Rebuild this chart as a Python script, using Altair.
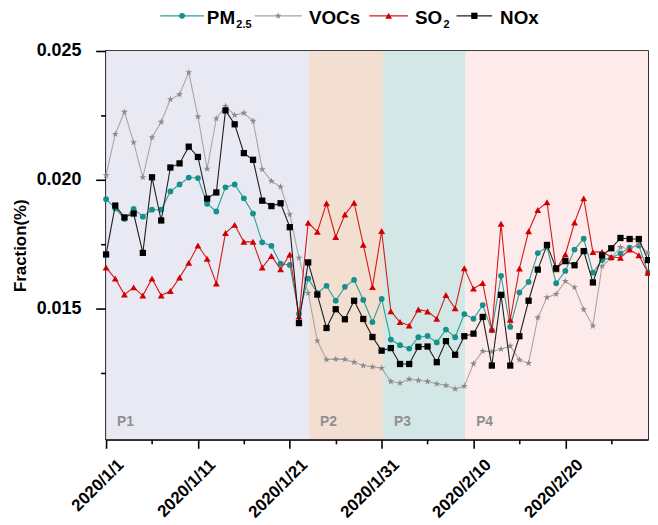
import json
import altair as alt
import pandas as pd

# daily fractions, 2020/1/1 .. 2020/2/29
pm25 = [0.01924, 0.01888, 0.01847, 0.01886, 0.01856, 0.01883, 0.01883, 0.01954, 0.01981, 0.02008,
        0.02006, 0.01906, 0.01876, 0.01970, 0.01981, 0.01927, 0.01868, 0.01756, 0.01742, 0.01673,
        0.01668, 0.01478, 0.01615, 0.01559, 0.01587, 0.01529, 0.01583, 0.01610, 0.01532, 0.01446,
        0.01536, 0.01378, 0.01356, 0.01343, 0.01387, 0.01392, 0.01367, 0.01417, 0.01387, 0.01477,
        0.01459, 0.01512, 0.01414, 0.01626, 0.01427, 0.01561, 0.01602, 0.01714, 0.01738, 0.01597,
        0.01645, 0.01728, 0.01770, 0.01638, 0.01687, 0.01696, 0.01713, 0.01735, 0.01744, 0.01638]
vocs = [0.02017, 0.02177, 0.02263, 0.02145, 0.02009, 0.02164, 0.02224, 0.02312, 0.02331, 0.02417,
        0.02245, 0.02042, 0.02237, 0.02286, 0.02251, 0.02259, 0.02228, 0.02040, 0.01994, 0.01972,
        0.01865, 0.01696, 0.01559, 0.01373, 0.01300, 0.01302, 0.01301, 0.01290, 0.01277, 0.01272,
        0.01267, 0.01215, 0.01209, 0.01224, 0.01219, 0.01215, 0.01206, 0.01200, 0.01186, 0.01197,
        0.01284, 0.01333, 0.01331, 0.01341, 0.01353, 0.01299, 0.01286, 0.01463, 0.01542, 0.01555,
        0.01605, 0.01581, 0.01495, 0.01431, 0.01664, 0.01696, 0.01737, 0.01730, 0.01750, 0.01715]
so2 = [0.01658, 0.01615, 0.01553, 0.01581, 0.01549, 0.01615, 0.01549, 0.01567, 0.01619, 0.01677,
       0.01744, 0.01692, 0.01596, 0.01792, 0.01824, 0.01758, 0.01758, 0.01658, 0.01703, 0.01651,
       0.01709, 0.01468, 0.01832, 0.01797, 0.01908, 0.01777, 0.01864, 0.01910, 0.01747, 0.01582,
       0.01800, 0.01488, 0.01446, 0.01433, 0.01495, 0.01487, 0.01459, 0.01551, 0.01500, 0.01655,
       0.01576, 0.01598, 0.01417, 0.01828, 0.01455, 0.01654, 0.01799, 0.01882, 0.01912, 0.01651,
       0.01709, 0.01833, 0.01927, 0.01718, 0.01719, 0.01699, 0.01696, 0.01728, 0.01706, 0.01638]
nox = [0.01709, 0.01899, 0.01853, 0.01868, 0.01715, 0.02009, 0.01841, 0.02047, 0.02063, 0.02128,
       0.02088, 0.01926, 0.01950, 0.02269, 0.02215, 0.02103, 0.02077, 0.01918, 0.01897, 0.01908,
       0.01815, 0.01442, 0.01678, 0.01553, 0.01423, 0.01496, 0.01457, 0.01529, 0.01458, 0.01388,
       0.01335, 0.01345, 0.01283, 0.01283, 0.01350, 0.01351, 0.01290, 0.01372, 0.01319, 0.01391,
       0.01401, 0.01466, 0.01277, 0.01552, 0.01277, 0.01391, 0.01529, 0.01650, 0.01746, 0.01655,
       0.01683, 0.01667, 0.01722, 0.01600, 0.01705, 0.01733, 0.01773, 0.01769, 0.01769, 0.01687]

series_names = ["PM2.5", "VOCs", "SO2", "NOx"]

# periods, in days since 2020/1/1
period_names = ["P1", "P2", "P3", "P4"]
period_start = [0, 22.1, 30.15, 39.1]
period_end = [22.1, 30.15, 39.1, 59]

tick_labels = ["2020/1/1", "2020/1/11", "2020/1/21", "2020/1/31", "2020/2/10", "2020/2/20"]

# styling
FONT = "Liberation Sans"
W, H = 547, 392
BAND_COLORS = ["#E9E9F4", "#F3DFD1", "#D2E7E6", "#FDEBEB"]
STAR = ("M0,-1L0.2245,-0.309L0.951,-0.309L0.363,0.118L0.588,0.809L0,0.382"
        "L-0.588,0.809L-0.363,0.118L-0.951,-0.309L-0.2245,-0.309Z")
STYLE = {
    "PM2.5": dict(line="#2E9E96", mark="#14918A", shape="circle", size=34),
    "VOCs": dict(line="#A6A6A6", mark="#8A8A8A", shape=STAR, size=55),
    "SO2": dict(line="#D41A1A", mark="#D00000", shape="triangle-up", size=48),
    "NOx": dict(line="#1E1E1E", mark="#000000", shape="square", size=40),
}

values = {"PM2.5": pm25, "VOCs": vocs, "SO2": so2, "NOx": nox}
df = pd.DataFrame(
    [{"day": i, "series": s, "value": v} for s in series_names for i, v in enumerate(values[s])]
)
periods = pd.DataFrame({"name": period_names, "start": period_start, "end": period_end})

x_scale = alt.Scale(domain=[0, 59], nice=False, zero=False)
y_scale = alt.Scale(domain=[0.0099, 0.025], nice=False, zero=False)

x_axis = alt.Axis(
    title=None, values=list(range(0, 59, 5)),
    labelExpr="datum.value % 10 == 0 ? " + json.dumps(tick_labels) + "[datum.value / 10] : ''",
    labelAngle=315, labelAlign="right", labelBaseline="top",
    labelOffset=9, labelPadding=8,
    tickSize={"condition": {"test": "datum.value % 10 == 0", "value": 9}, "value": 4.5},
    labelFontSize=17,
)
y_axis = alt.Axis(
    title="Fraction(%)", values=[0.0125, 0.015, 0.0175, 0.02, 0.0225, 0.025],
    labelExpr="abs(datum.value * 200 - round(datum.value * 200)) < 0.001 ? format(datum.value, '.3f') : ''",
    tickSize={"condition": {"test": "abs(datum.value * 200 - round(datum.value * 200)) < 0.001",
                            "value": 10.5}, "value": 5.5},
    labelPadding=15, labelFontSize=18, titleFontSize=17, titlePadding=7,
)

bands = alt.Chart(periods).mark_rect().encode(
    x=alt.X("start:Q", scale=x_scale, axis=x_axis),
    x2="end:Q",
    y=alt.value(0),
    y2=alt.value(H),
    color=alt.Color("name:N", scale=alt.Scale(domain=period_names, range=BAND_COLORS), legend=None),
)

band_text = alt.Chart(periods).mark_text(
    align="left", baseline="alphabetic", dx=11, fontSize=14, fontWeight="bold",
    font=FONT, color="#8F8F8F",
).encode(x=alt.X("start:Q", scale=x_scale), y=alt.value(H - 13), text="name:N")

layers = [bands, band_text]
for s in series_names:
    st = STYLE[s]
    base = alt.Chart(df).transform_filter(alt.datum.series == s)
    enc = dict(
        x=alt.X("day:Q", scale=x_scale, axis=x_axis),
        y=alt.Y("value:Q", scale=y_scale, axis=y_axis),
    )
    layers.append(base.mark_line(color=st["line"], strokeWidth=1.1).encode(**enc))
    layers.append(base.mark_point(shape=st["shape"], filled=True, opacity=1,
                                  size=st["size"], color=st["mark"]).encode(**enc))

# custom legend above the plot (needs subscripts)
one = alt.Data(values=[{"k": 0}])
LEG_Y, TXT_Y, SUB_Y = -35.5, -27, -23.5
legend_items = [
    # series, line x1, line x2, marker x, text x, main text, sub text, sub x
    ("PM2.5", 54.7, 98.7, 76.7, 101.7, "PM", "2.5", 131.5),
    ("VOCs", 149.7, 197.7, 173.7, 204.7, "VOCs", "", 0),
    ("SO2", 265.7, 304.7, 285.2, 311.7, "SO", "2", 340.5),
    ("NOx", 353.7, 389.7, 371.7, 397.7, "NOx", "", 0),
]
for s, x1, x2, xm, xt, main, sub, xs in legend_items:
    st = STYLE[s]
    layers.append(alt.Chart(one).mark_rule(color=st["line"], strokeWidth=1.3).encode(
        x=alt.value(x1), x2=alt.value(x2), y=alt.value(LEG_Y)))
    layers.append(alt.Chart(one).mark_point(shape=st["shape"], filled=True, opacity=1,
                                            size=st["size"], color=st["mark"]).encode(
        x=alt.value(xm), y=alt.value(LEG_Y)))
    layers.append(alt.Chart(one).mark_text(text=main, align="left", baseline="alphabetic",
                                           font=FONT, fontSize=19, fontWeight="bold",
                                           color="#000000").encode(
        x=alt.value(xt), y=alt.value(TXT_Y)))
    if sub:
        layers.append(alt.Chart(one).mark_text(text=sub, align="left", baseline="alphabetic",
                                               font=FONT, fontSize=11, fontWeight="bold",
                                               color="#000000").encode(
            x=alt.value(xs), y=alt.value(SUB_Y)))

chart = alt.layer(*layers).properties(
    width=W, height=H,
    autosize="none",
    padding={"left": 99, "top": 41, "right": 2, "bottom": 80},
    background="white",
).configure_view(
    stroke="#000000", strokeWidth=1.6,
).configure_axis(
    grid=False, domainColor="#000000", domainWidth=1.6,
    tickColor="#000000", tickWidth=1.6,
    labelFont=FONT, labelFontWeight="bold", labelColor="#000000",
    titleFont=FONT, titleFontWeight="bold", titleColor="#000000",
)

chart.save("out.html", embed_options={"renderer": "svg", "actions": False})
